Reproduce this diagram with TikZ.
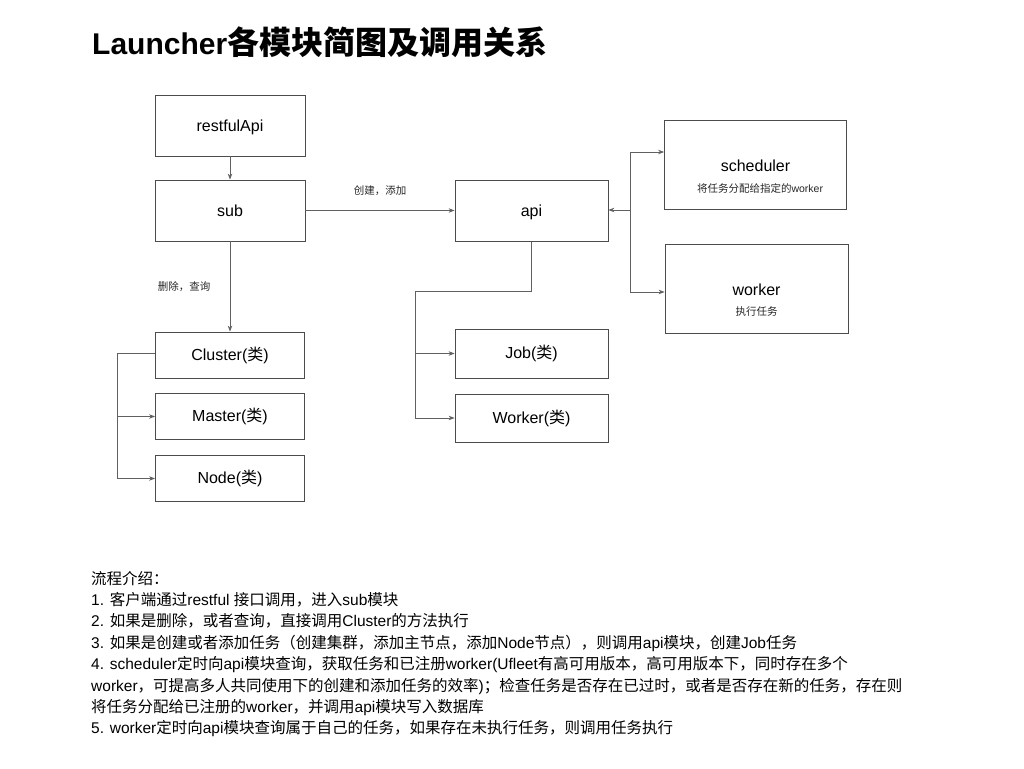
\documentclass[tikz,border=0pt]{standalone}
\usepackage{fontspec}
\setmainfont{Liberation Sans}
\newfontfamily\latinfont{Liberation Sans}
\newfontfamily\cjkfont{Noto Sans CJK SC}
\usetikzlibrary{arrows.meta}
\newXeTeXintercharclass\cjkclass
\makeatletter
\count@="4E00 \loop \XeTeXcharclass\count@=\cjkclass \ifnum\count@<"9FFF \advance\count@ by 1 \repeat
\count@="3000 \loop \XeTeXcharclass\count@=\cjkclass \ifnum\count@<"303F \advance\count@ by 1 \repeat
\count@="FF00 \loop \XeTeXcharclass\count@=\cjkclass \ifnum\count@<"FFEF \advance\count@ by 1 \repeat
\makeatother
\XeTeXinterchartoks 0 \cjkclass = {\cjkfont}
\XeTeXinterchartoks 4095 \cjkclass = {\cjkfont}
\XeTeXinterchartoks \cjkclass 0 = {\latinfont}
\XeTeXinterchartoks 4095 0 = {\latinfont}
\XeTeXinterchartokenstate=1
\tikzset{
  box/.style={draw=black!70, line width=0.8pt, inner sep=0pt, font=\fontsize{16}{19}\selectfont},
  small/.style={inner sep=0pt, font=\fontsize{10.5}{13}\selectfont, text=black!85},
  para/.style={anchor=base west, inner sep=0pt, font=\fontsize{15.5}{19}\selectfont},
  conn/.style={draw=black!62, line width=0.8pt},
  arr/.style={conn, -{Stealth[length=6pt,width=4.5pt]}}
}
\begin{document}
\begin{tikzpicture}[x=1pt, y=-1pt]
\useasboundingbox (0,0) rectangle (1024,768);
% title
\node[anchor=base west, inner sep=0pt, font=\fontsize{30}{36}\selectfont\bfseries] (title) at (92,55) {Launcher{\fontsize{32}{36}\selectfont 各模块简图及调用关系}};
% boxes
\node[box, minimum width=150pt, minimum height=61pt, text depth=0pt] (restfulApi) at (230,125.5) {restfulApi};
\node[box, minimum width=150pt, minimum height=61pt] (sub) at (230,210.5) {sub};
\node[box, minimum width=153pt, minimum height=61pt, text depth=1pt] (api) at (531.5,211) {api};
\node[box, minimum width=182pt, minimum height=89pt] (scheduler) at (755.5,164.5) {};
\node[inner sep=0pt, font=\fontsize{16}{19}\selectfont] (schedT) at (755.5,166) {scheduler};
\node[small] (schedS) at (760,188) {将任务分配给指定的worker};
\node[box, minimum width=183pt, minimum height=89pt] (worker) at (756.5,288.5) {};
\node[inner sep=0pt, font=\fontsize{16}{19}\selectfont] (workerT) at (756.5,290) {worker};
\node[small] (workerS) at (756.5,312) {执行任务};
\node[box, minimum width=149pt, minimum height=46pt] (Cluster) at (230,355) {Cluster(类)};
\node[box, minimum width=149pt, minimum height=46pt] (Master) at (230,416.5) {Master(类)};
\node[box, minimum width=149pt, minimum height=46pt] (Node) at (230,478.5) {Node(类)};
\node[box, minimum width=153pt, minimum height=49pt] (Job) at (531.5,353.5) {Job(类)};
\node[box, minimum width=153pt, minimum height=48pt] (Worker) at (531.5,418) {Worker(类)};
% edge labels
\node[small] (lblCreate) at (380,191) {创建，添加};
\node[small] (lblDelete) at (184,287) {删除，查询};
% connectors
\draw[arr] (restfulApi) -- (sub);
\draw[arr] (sub.east) -- (sub.east -| api.west);
\draw[arr] (sub) -- (Cluster);
\coordinate (clBus) at (117,353);
\draw[conn] (Cluster.west |- clBus) -- (clBus);
\draw[arr] (clBus) |- (Master.west);
\draw[arr] (clBus) |- (Node.west);
\coordinate (apiTurn) at (531.5,291);
\coordinate (jobBus) at (415,291);
\draw[conn] (api.south) -- (apiTurn) -- (jobBus);
\draw[arr] (jobBus) |- (Job.west);
\draw[arr] (jobBus) |- (Worker.west);
\coordinate (rBus) at (630,210);
\draw[arr] (rBus) -- (rBus -| api.east);
\draw[arr] (rBus) |- ([yshift=12.5pt]scheduler.west);
\draw[arr] (rBus) |- ([yshift=-3.5pt]worker.west);
% description
\node[para] (p0) at (91,584) {流程介绍：};
\node[para] (p1) at (91,605.4) {1. 客户端通过restful 接口调用，进入sub模块};
\node[para] (p2) at (91,626.8) {2. 如果是删除，或者查询，直接调用Cluster的方法执行};
\node[para] (p3) at (91,648.2) {3. 如果是创建或者添加任务（创建集群，添加主节点，添加Node节点），则调用api模块，创建Job任务};
\node[para] (p4) at (91,669.6) {4. scheduler定时向api模块查询，获取任务和已注册worker(Ufleet有高可用版本，高可用版本下，同时存在多个};
\node[para] (p5) at (91,691) {worker，可提高多人共同使用下的创建和添加任务的效率)；检查任务是否存在已过时，或者是否存在新的任务，存在则};
\node[para] (p6) at (91,712.4) {将任务分配给已注册的worker，并调用api模块写入数据库};
\node[para] (p7) at (91,733.8) {5. worker定时向api模块查询属于自己的任务，如果存在未执行任务，则调用任务执行};
\end{tikzpicture}
\end{document}
